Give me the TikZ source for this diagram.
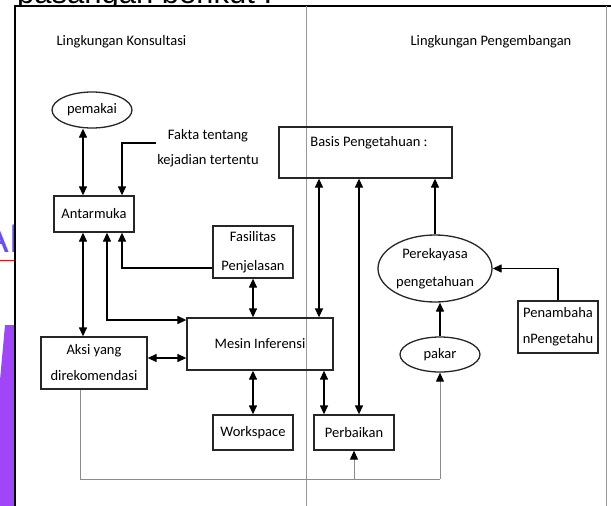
\documentclass[tikz,border=0pt]{standalone}
\usepackage{fontspec}
\setmainfont{Carlito}
\newfontfamily\arialf{Liberation Sans}
\usetikzlibrary{arrows.meta,shapes.geometric}
\definecolor{slideblue}{RGB}{107,77,255}
\definecolor{slidepurple}{RGB}{160,70,248}
\begin{document}
\begin{tikzpicture}[x=1pt,y=-1pt,
  box/.style={draw=black!85, line width=1.3pt, rectangle, inner sep=2pt, align=center, font=\fontsize{14.5}{26}\selectfont},
  ell/.style={draw=black!85, line width=1.3pt, ellipse, inner sep=0pt, align=center, font=\fontsize{14.5}{28}\selectfont},
  txt/.style={inner sep=0pt, align=center, font=\fontsize{14.5}{25}\selectfont},
  tip/.style={-{Triangle[length=9pt,width=8pt,color=black]}},
  arr/.style={line width=1.3pt, tip},
  dbl/.style={line width=1.3pt, {Triangle[length=9pt,width=8pt]}-{Triangle[length=9pt,width=8pt]}},
  gline/.style={draw=black!45, line width=1pt},
  garr/.style={gline, tip},
  frame/.style={draw=black, line width=2pt},
  divider/.style={draw=black!40, line width=1pt}]
\useasboundingbox (0,0) rectangle (611,506);
\clip (0,0) rectangle (611,506);
% slide background fragments
\fill[white] (0,0) rectangle (611,506);
\node[anchor=base west, inner sep=0pt, font=\arialf\fontsize{31}{31}\selectfont] (title) at (17,4) {pasangan berikut :};
\node[anchor=base west, inner sep=0pt, text=slideblue, font=\arialf\fontsize{40}{40}\selectfont] (slidetxt) at (-17.7,252) {AK};
\draw[red, line width=1pt] (0,260) -- (15,260);
\fill[slidepurple] (5,325) -- (15,325) -- (15,506) -- (0,506) -- (0,380) -- cycle;
% diagram panel
\fill[white] (15,6) rectangle (611,506);
\draw[frame] (15,506) -- (15,6) -- (611,6);
\draw[divider] (606,6) -- (606,506);
\draw[divider] (306,6) -- (306,506);
% headings
\node[txt] (lk) at (121.5,42) {Lingkungan Konsultasi};
\node[txt] (lp) at (491,42) {Lingkungan Pengembangan};
% nodes
\node[ell, minimum width=80pt, minimum height=36pt] (pemakai) at (92,110) {pemakai};
\node[box, minimum width=80pt, minimum height=36pt] (antar) at (94,214) {Antarmuka};
\node[txt] (fakta) at (208,148.5) {Fakta tentang\\kejadian tertentu};
\node[box, minimum width=173pt, minimum height=51pt] (basis) at (365.5,152.5) {};
\node[txt] (basistxt) at (369,143) {Basis Pengetahuan :};
\node[box, minimum width=80pt, minimum height=52pt, font=\fontsize{14.5}{29}\selectfont] (fas) at (253,252) {Fasilitas\\Penjelasan};
\node[box, minimum width=146pt, minimum height=52pt] (mesin) at (260,344) {Mesin Inferensi};
\node[box, minimum width=106pt, minimum height=52pt] (aksi) at (94,363) {Aksi yang\\direkomendasi};
\node[box, minimum width=80pt, minimum height=35pt] (work) at (253,432.5) {Workspace};
\node[box, minimum width=80pt, minimum height=35pt] (perb) at (354,432.5) {Perbaikan};
\node[ell, minimum width=114pt, minimum height=67pt] (perek) at (435,268.5) {Perekayasa\\pengetahuan};
\node[ell, minimum width=80pt, minimum height=35pt] (pakar) at (440,354.5) {pakar};
\node[box, minimum width=80pt, minimum height=52pt] (penam) at (558,327) {Penambaha\\nPengetahu};
% helper coordinates
\coordinate (xa) at (83,0);
\coordinate (xb) at (122,0);
\coordinate (xc) at (107,0);
\coordinate (yc) at (0,268);
\coordinate (yd) at (0,320);
\coordinate (ye) at (0,358);
\coordinate (xf) at (319,0);
\coordinate (xg) at (359,0);
\coordinate (xh) at (324,0);
\coordinate (fk) at (156,143);
\coordinate (bl) at (80,479);
\coordinate (br) at (440,479);
% connectors
\draw[dbl] (pemakai.south -| xa) -- (antar.north -| xa);
\draw[arr] (fk) -| (antar.north -| xb);
\draw[dbl] (antar.south -| xa) -- (aksi.north -| xa);
\draw[arr] (fas.west |- yc) -| (antar.south -| xb);
\draw[dbl] (antar.south -| xc) |- (mesin.west |- yd);
\draw[dbl] (aksi.east |- ye) -- (mesin.west |- ye);
\draw[dbl] (fas.south) -- (mesin.north -| fas.south);
\draw[dbl] (mesin.south -| work.north) -- (work.north);
\draw[dbl] (basis.south -| xf) -- (mesin.north -| xf);
\draw[dbl] (basis.south -| xg) -- (perb.north -| xg);
\draw[dbl] (mesin.south -| xh) -- (perb.north -| xh);
\draw[arr] (perek.north) -- (basis.south -| perek.north);
\draw[arr] (penam.north) |- (perek.east);
\draw[arr] (pakar.north) -- (perek.south -| pakar.north);
\draw[gline] (aksi.south -| bl) -- (bl) -- (br);
\draw[garr] (br) -- (pakar.south);
\draw[garr] (perb.south |- bl) -- (perb.south);
\end{tikzpicture}
\end{document}
